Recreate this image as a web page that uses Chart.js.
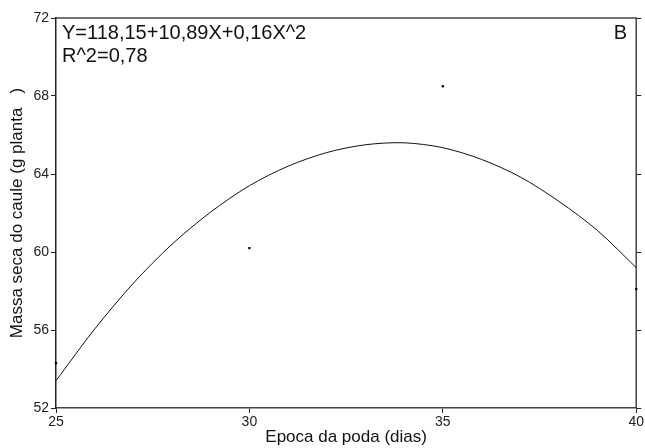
<!DOCTYPE html>
<html>
<head>
<meta charset="utf-8">
<script src="https://cdn.jsdelivr.net/npm/chart.js@4"></script>
<style>
    html, body { margin: 0; padding: 0; background: #fff; }
    #wrap { width: 645px; height: 448px; }
</style>
</head>
<body>
<div id="wrap"><canvas id="grafico"></canvas></div>
<script>
// --- DATOS ---
const epocas = [25, 30, 35, 40];
const masaObservada = [54.3, 60.2, 68.5, 58.1];

const curvaX = [25, 26, 27, 28, 29, 30, 31, 32, 33, 34, 35, 36, 37, 38, 39, 40];
const curvaY = [53.4, 56.05, 58.4, 60.4, 62.05, 63.4, 64.4, 65.1, 65.5, 65.6, 65.35, 64.75, 63.85, 62.6, 61.1, 59.2];

const ticksX = [25, 30, 35, 40];
const ticksY = [52, 56, 60, 64, 68, 72];

const ecuacion = "Y=118,15+10,89X+0,16X^2";
const r2 = "R^2=0,78";
const letraPanel = "B";

const FUENTE = "Arial, 'Liberation Sans', sans-serif";

// marco (antes de los puntos) y textos del panel
const marcoPlugin = {
    id: 'marco',
    beforeDatasetsDraw(chart) {
        const { ctx, chartArea: a } = chart;
        ctx.save();
        ctx.strokeStyle = '#444';
        ctx.lineWidth = 1.5;
        ctx.beginPath();
        ctx.moveTo(a.left, a.top);
        ctx.lineTo(a.right, a.top);
        ctx.lineTo(a.right, a.bottom);
        ctx.stroke();
        ctx.restore();
    },
    afterDraw(chart) {
        const { ctx, chartArea: a } = chart;
        ctx.save();
        ctx.fillStyle = '#111';
        ctx.font = '20px ' + FUENTE;
        ctx.textBaseline = 'top';
        ctx.textAlign = 'left';
        ctx.fillText(ecuacion, a.left + 6, a.top + 5);
        ctx.fillText(r2, a.left + 6, a.top + 28);
        ctx.textAlign = 'right';
        ctx.fillText(letraPanel, a.right - 9, a.top + 5);
        ctx.restore();
    }
};

new Chart(document.getElementById('grafico'), {
    type: 'scatter',
    data: {
        datasets: [
            {
                label: 'curva',
                type: 'line',
                data: curvaX.map((x, i) => ({ x: x, y: curvaY[i] })),
                borderColor: '#111',
                borderWidth: 1,
                pointRadius: 0,
                tension: 0.3
            },
            {
                label: 'observado',
                data: epocas.map((x, i) => ({ x: x, y: masaObservada[i] })),
                backgroundColor: '#000',
                borderColor: '#000',
                pointStyle: 'rect',
                pointRadius: 1.6,
                borderWidth: 0,
                clip: false
            }
        ]
    },
    options: {
        responsive: true,
        maintainAspectRatio: false,
        animation: false,
        layout: { padding: { top: 18, right: 0, left: 7, bottom: 0 } },
        plugins: { legend: { display: false }, tooltip: { enabled: false } },
        scales: {
            x: {
                type: 'linear',
                min: 25, max: 40,
                afterBuildTicks: s => { s.ticks = ticksX.map(v => ({ value: v })); },
                afterFit: s => { s.height = 40; },
                grid: { drawOnChartArea: false, tickLength: 5, color: '#222', tickColor: '#222' },
                border: { color: '#444', width: 1.5 },
                ticks: { color: '#222', font: { family: FUENTE, size: 14 }, padding: 1 },
                title: { display: true, text: 'Epoca da poda (dias)', color: '#111', font: { family: FUENTE, size: 17 }, padding: { top: 0, bottom: 0 } }
            },
            y: {
                min: 52, max: 72,
                afterBuildTicks: s => { s.ticks = ticksY.map(v => ({ value: v })); },
                afterFit: s => { s.width = 49; },
                grid: { drawOnChartArea: false, tickLength: 5, color: '#222', tickColor: '#222' },
                border: { color: '#222', width: 1.5 },
                ticks: { color: '#222', font: { family: FUENTE, size: 14 }, padding: 2 },
                title: { display: true, text: 'Massa seca do caule (g planta   )', color: '#111', font: { family: FUENTE, size: 17 }, padding: { top: 0, bottom: 2 } }
            },
            y2: {
                position: 'right',
                min: 52, max: 72,
                afterBuildTicks: s => { s.ticks = ticksY.map(v => ({ value: v })); },
                afterFit: s => { s.width = 8; },
                grid: { drawOnChartArea: false, tickLength: 5, color: '#222', tickColor: '#222' },
                border: { display: false },
                ticks: { display: false }
            }
        }
    },
    plugins: [marcoPlugin]
});
</script>
</body>
</html>
